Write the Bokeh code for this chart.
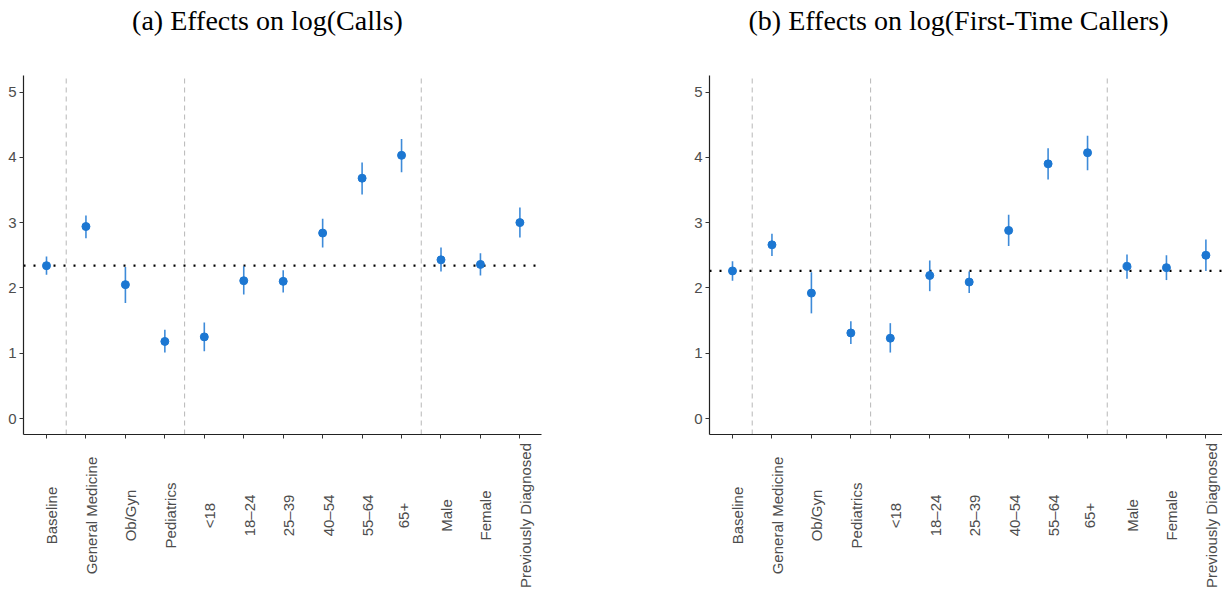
from bokeh.plotting import figure
from bokeh.models import Range1d, FixedTicker, ColumnDataSource, Label, LabelSet
from bokeh.core.properties import value
from bokeh.layouts import row
from bokeh.embed import file_html
from bokeh.resources import INLINE

categories = ["Baseline", "General Medicine", "Ob/Gyn", "Pediatrics", "<18", "18\u201324",
              "25\u201339", "40\u201354", "55\u201364", "65+", "Male", "Female", "Previously Diagnosed"]

calls_est = [2.34, 2.94, 2.05, 1.18, 1.25, 2.11, 2.10, 2.84, 3.68, 4.03, 2.43, 2.36, 3.00]
calls_lo = [2.20, 2.76, 1.77, 1.01, 1.03, 1.90, 1.93, 2.62, 3.43, 3.77, 2.25, 2.19, 2.77]
calls_hi = [2.48, 3.11, 2.32, 1.36, 1.47, 2.33, 2.27, 3.06, 3.92, 4.28, 2.62, 2.53, 3.23]
calls_baseline = 2.34

first_est = [2.26, 2.66, 1.92, 1.31, 1.23, 2.19, 2.09, 2.88, 3.90, 4.07, 2.33, 2.31, 2.50]
first_lo = [2.11, 2.49, 1.61, 1.14, 1.01, 1.95, 1.92, 2.64, 3.66, 3.80, 2.14, 2.12, 2.26]
first_hi = [2.41, 2.83, 2.24, 1.49, 1.46, 2.42, 2.25, 3.12, 4.14, 4.33, 2.51, 2.50, 2.74]
first_baseline = 2.26

y_ticks = [0, 1, 2, 3, 4, 5]
group_breaks = [1.5, 4.5, 10.5]
titles = ["(a) Effects on log(Calls)", "(b) Effects on log(First-Time Callers)"]

BLUE = "#1C77D2"
H = 588
PX_X = 39.45   # pixels per category
PX_Y = 65.3    # pixels per unit
Y_LO, Y_HI = -0.245, 5.26


def make_panel(title, est, lo, hi, base, width, axis_px, xend, title_x):
    xs = list(range(1, len(categories) + 1))
    n = len(categories)
    x_lo = 1 - 0.583
    # full-canvas frame; axes pinned at the panel edges
    x0 = x_lo - axis_px / PX_X
    x1 = x0 + width / PX_X
    y0 = -(H - 418) / PX_Y
    y1 = y0 + H / PX_Y
    src = ColumnDataSource(dict(x=xs, est=est, lo=lo, hi=hi, label=categories))
    p = figure(width=width, height=H, output_backend="svg", toolbar_location=None,
               x_range=Range1d(x0, x1), y_range=Range1d(y0, y1),
               min_border=0)
    p.outline_line_color = None
    p.xgrid.visible = False
    p.ygrid.visible = False
    p.background_fill_color = "white"
    p.border_fill_color = "white"

    p.segment(x0=group_breaks, y0=[Y_LO] * 3, x1=group_breaks, y1=[Y_HI] * 3,
              line_color="#BEBEBE", line_width=1.1, line_dash="5 4")
    p.segment(x0=[x_lo], y0=[base], x1=[xend], y1=[base], line_color="black",
              line_width=2.2, line_dash="2 8")

    p.segment(x0="x", y0="lo", x1="x", y1="hi", source=src, line_color=BLUE,
              line_width=1.6, line_alpha=0.85)
    p.scatter(x="x", y="est", source=src, size=8, fill_color=BLUE, line_color=BLUE)

    p.xaxis.fixed_location = Y_LO
    p.yaxis.fixed_location = x_lo
    p.xaxis.bounds = (x_lo, xend)
    p.yaxis.bounds = (Y_LO, Y_HI)
    p.xaxis.ticker = FixedTicker(ticks=xs)
    p.xaxis.major_label_overrides = {i + 1: "" for i in range(n)}
    p.yaxis.ticker = FixedTicker(ticks=y_ticks)
    for ax in (p.xaxis, p.yaxis):
        ax.axis_line_color = "#222222"
        ax.axis_line_width = 1.2
        ax.major_tick_line_color = "#333333"
        ax.major_tick_out = 4
        ax.major_tick_in = 0
        ax.minor_tick_line_color = None
        ax.major_label_text_font = "Liberation Sans"
        ax.major_label_text_font_size = "15px"
        ax.major_label_text_color = "#4D4D4D"
    p.yaxis.major_label_standoff = 3

    # rotated category labels, centred vertically like the reference
    p.add_layout(LabelSet(x="x", y=H - 515, y_units="screen", text="label", source=src,
                          angle=1.5708, text_align="center", text_baseline="top",
                          x_offset=-3,
                          text_font=value("Liberation Sans"), text_font_size=value("15px"),
                          text_color=value("#4D4D4D")))

    p.add_layout(Label(x=title_x, y=H - 20, x_units="screen", y_units="screen", text=title,
                       text_align="center", text_baseline="middle",
                       text_font="Liberation Serif", text_font_size="28px", text_color="black"))
    return p


p1 = make_panel(titles[0], calls_est, calls_lo, calls_hi, calls_baseline,
                616, 23, 13.56, 267)
p2 = make_panel(titles[1], first_est, first_lo, first_hi, first_baseline,
                606, 93, 13.42, 342)

layout = row(p1, p2)
open("out.html", "w").write(file_html(layout, INLINE))
